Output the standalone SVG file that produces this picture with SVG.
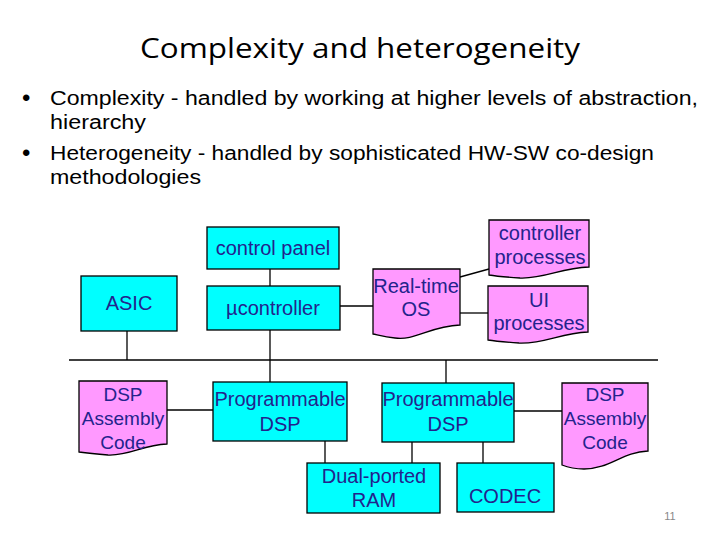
<svg xmlns="http://www.w3.org/2000/svg" width="720" height="540" viewBox="0 0 720 540">
<style>
.t{font-family:"Liberation Sans",Arial,sans-serif;font-size:20px;fill:#23238c;text-anchor:middle}
.s{font-size:19px}
.hw{fill:#00ffff;stroke:#000;stroke-width:1.3}
.sw{fill:#ff99ff;stroke:#000;stroke-width:1.3}
.c{stroke:#000;stroke-width:1.3;fill:none}
.h{font-family:"Liberation Sans","Noto Sans",sans-serif;fill:#000}
</style>
<rect width="720" height="540" fill="#fff"/>
<text x="360" y="58" font-family="'Open Sans','Noto Sans',sans-serif" font-size="27" text-anchor="middle" textLength="440" lengthAdjust="spacingAndGlyphs">Complexity and heterogeneity</text>
<g class="h" font-size="20">
<text x="22" y="106" font-size="24">•</text>
<text x="50" y="105" textLength="648" lengthAdjust="spacingAndGlyphs">Complexity - handled by working at higher levels of abstraction,</text>
<text x="50" y="129" textLength="96" lengthAdjust="spacingAndGlyphs">hierarchy</text>
<text x="22" y="161" font-size="24">•</text>
<text x="50" y="160" textLength="604" lengthAdjust="spacingAndGlyphs">Heterogeneity - handled by sophisticated HW-SW co-design</text>
<text x="50" y="184" textLength="151" lengthAdjust="spacingAndGlyphs">methodologies</text>
</g>
<g id="connectors">
<line class="c" x1="69" y1="360" x2="658" y2="360"/>
<line class="c" x1="127" y1="331" x2="127" y2="360"/>
<line class="c" x1="270" y1="269" x2="270" y2="286"/>
<line class="c" x1="270" y1="330" x2="270" y2="382"/>
<line class="c" x1="340" y1="306" x2="373" y2="306"/>
<line class="c" x1="460" y1="277" x2="489" y2="269"/>
<line class="c" x1="460" y1="313" x2="488" y2="313"/>
<line class="c" x1="446" y1="360" x2="446" y2="383"/>
<line class="c" x1="167" y1="410" x2="213" y2="410"/>
<line class="c" x1="325" y1="441" x2="325" y2="463"/>
<line class="c" x1="514" y1="411" x2="562" y2="411"/>
<line class="c" x1="412" y1="442" x2="412" y2="463"/>
<line class="c" x1="483" y1="442" x2="483" y2="463"/>
</g>
<g id="control-panel"><rect class="hw" x="207" y="227" width="132" height="42"/><text class="t" x="273" y="255">control panel</text></g>
<g id="asic"><rect class="hw" x="81" y="276" width="96" height="55"/><text class="t" x="129" y="310">ASIC</text></g>
<g id="ucontroller"><rect class="hw" x="207" y="286" width="133" height="44"/><text class="t" x="273" y="315">µcontroller</text></g>
<g id="rtos"><path class="sw" d="M373 269 H460 V325 C430 326 415 341 395 338 C385 337 378 335 373 334 Z"/><text class="t" x="416" y="293">Real-time</text><text class="t" x="416" y="316">OS</text></g>
<g id="controller-processes"><path class="sw" d="M489 220 H589 V267 C560 268 545 279 520 278 C505 277 495 276 489 275 Z"/><text class="t" x="540" y="240">controller</text><text class="t" x="540" y="264">processes</text></g>
<g id="ui-processes"><path class="sw" d="M488 286 H588 V332 C560 333 545 344 519 343 C504 342 494 341 488 340 Z"/><text class="t" x="539" y="307">UI</text><text class="t" x="539" y="330">processes</text></g>
<g id="dsp-code-left"><path class="sw" d="M79 381 H167 V444 C142 445 130 456 108 455 C95 454 86 453 79 452 Z"/><text class="t s" x="123" y="401">DSP</text><text class="t s" x="123" y="425">Assembly</text><text class="t s" x="123" y="449">Code</text></g>
<g id="prog-dsp-left"><rect class="hw" x="213" y="382" width="134" height="59"/><text class="t" x="280" y="406">Programmable</text><text class="t" x="280" y="431">DSP</text></g>
<g id="prog-dsp-right"><rect class="hw" x="382" y="383" width="132" height="59"/><text class="t" x="448" y="406">Programmable</text><text class="t" x="448" y="431">DSP</text></g>
<g id="dsp-code-right"><path class="sw" d="M562 383 H648 V451 C622 452 610 469 584 469 C574 469 567 467 562 465 Z"/><text class="t s" x="605" y="401">DSP</text><text class="t s" x="605" y="425">Assembly</text><text class="t s" x="605" y="449">Code</text></g>
<g id="dual-ported-ram"><rect class="hw" x="307" y="463" width="133" height="50"/><text class="t" x="374" y="483">Dual-ported</text><text class="t" x="374" y="507">RAM</text></g>
<g id="codec"><rect class="hw" x="457" y="463" width="97" height="49"/><text class="t" x="505" y="503">CODEC</text></g>
<text x="670" y="520" font-family="'Liberation Sans',sans-serif" font-size="11" fill="#888" text-anchor="middle">11</text>
</svg>
